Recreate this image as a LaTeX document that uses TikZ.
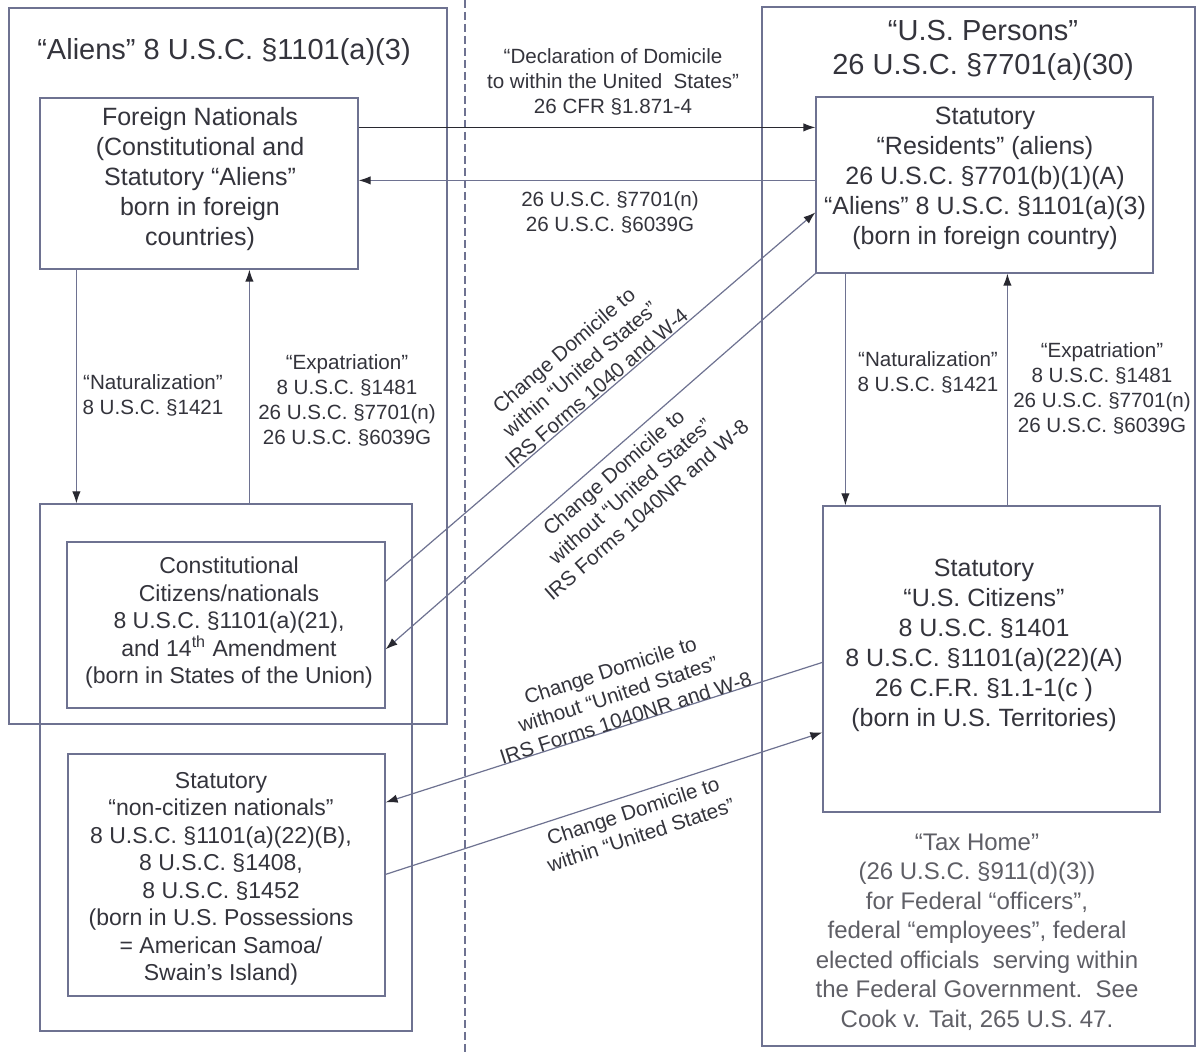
\documentclass[tikz,border=0pt]{standalone}
\usepackage{fontspec}
\setmainfont{Liberation Sans}
\usetikzlibrary{arrows.meta,fit,calc}
\definecolor{linec}{RGB}{110,114,145}
\definecolor{txt}{RGB}{52,52,60}
\definecolor{txtl}{RGB}{95,95,102}
\definecolor{tipc}{RGB}{40,40,48}
\begin{document}
\begin{tikzpicture}[x=0.5pt,y=-0.5pt,
  frame/.style={draw=linec,line width=0.6pt,inner sep=0pt},
  bt/.style={text=txt,align=center,inner sep=0pt,font=\fontsize{12.5pt}{15pt}\selectfont},
  bts/.style={text=txt,align=center,inner sep=0pt,font=\fontsize{11.5pt}{13.75pt}\selectfont},
  lbl/.style={text=txt,align=center,inner sep=0pt,font=\fontsize{10.3pt}{12.5pt}\selectfont},
  ttl/.style={text=txt,align=center,inner sep=0pt,font=\fontsize{14.5pt}{17pt}\selectfont},
  taxt/.style={text=txtl,align=center,inner sep=0pt,font=\fontsize{12pt}{14.75pt}\selectfont},
  conn/.style={draw=linec,line width=0.6pt,-{Latex[length=6pt,width=4.2pt,color=tipc]}},
  divider/.style={draw=linec,line width=0.6pt,dash pattern=on 4pt off 2pt}]
\fill[white] (0,0) rectangle (1200,1052);
\useasboundingbox (0,0) rectangle (1200,1052);

% divider
\coordinate (dtop) at (465,0);
\coordinate (dbot) at (465,1052);
\draw[divider] (dtop) -- (dbot);

% frames
\node[frame,fit={(9,8) (447,724)}] (alienbox) {};
\node[frame,fit={(40,504) (412,1031)}] (ll) {};
\node[frame,fit={(762,7) (1195,1046)}] (usp) {};
\node[frame,fit={(40,98) (358,269)}] (fn) {};
\node[frame,fit={(67,542) (385,708)}] (cc) {};
\node[frame,fit={(68,754) (385,996)}] (nc) {};
\node[frame,fit={(816,97) (1153,273)}] (res) {};
\node[frame,fit={(823,506) (1160,812)}] (usc) {};

% titles
\node[ttl] (t1) at (224,52) {“Aliens” 8 U.S.C. §1101(a)(3)};
\node[ttl] (t2) at (983,50) {“U.S. Persons”\\26 U.S.C. §7701(a)(30)};

% box texts
\node[bt] (fnt) at (200,179) {Foreign Nationals\\(Constitutional and\\Statutory “Aliens”\\born in foreign\\countries)};
\node[bts] (cct) at (229,623) {Constitutional\\Citizens/nationals\\8 U.S.C. §1101(a)(21),\\and 14\textsuperscript{th} Amendment\\(born in States of the Union)};
\node[bts] (nct) at (221,879) {Statutory\\“non-citizen nationals”\\8 U.S.C. §1101(a)(22)(B),\\8 U.S.C. §1408,\\8 U.S.C. §1452\\(born in U.S. Possessions\\= American Samoa/\\Swain’s Island)};
\node[bt] (rest) at (985,178) {Statutory\\“Residents” (aliens)\\26 U.S.C. §7701(b)(1)(A)\\“Aliens” 8 U.S.C. §1101(a)(3)\\(born in foreign country)};
\node[bt] (usct) at (984,645) {Statutory\\“U.S. Citizens”\\8 U.S.C. §1401\\8 U.S.C. §1101(a)(22)(A)\\26 C.F.R. §1.1-1(c )\\(born in U.S. Territories)};
\node[taxt] (tax) at (977,932) {“Tax Home”\\(26 U.S.C. §911(d)(3))\\for Federal “officers”,\\federal “employees”, federal\\elected officials\ \ serving within\\the Federal Government.\ \ See\\Cook v. Tait, 265 U.S. 47.};

% horizontal connectors
\draw[conn,draw=tipc] ($(fn.north east)+(0,30)$) -- ($(res.north west)+(0,31)$);
\draw[conn] ($(res.north west)+(0,84)$) -- ($(fn.north east)+(0,83)$);
\node[lbl] (l1) at (613,82) {“Declaration of Domicile\\to within the United\ \ States”\\26 CFR §1.871-4};
\node[lbl] (l2) at (610,212) {26 U.S.C. §7701(n)\\26 U.S.C. §6039G};

% vertical connectors left
\draw[conn] ($(fn.south west)+(37,0)$) -- ($(ll.north west)+(37,0)$);
\draw[conn] ($(ll.north west)+(210,0)$) -- ($(fn.south west)+(210,0)$);
\node[lbl] (l3) at (153,395) {“Naturalization”\\8 U.S.C. §1421};
\node[lbl] (l4) at (347,400) {“Expatriation”\\8 U.S.C. §1481\\26 U.S.C. §7701(n)\\26 U.S.C. §6039G};

% vertical connectors right
\draw[conn] ($(res.south west)+(30,0)$) -- ($(usc.north west)+(23,0)$);
\draw[conn] ($(usc.north west)+(185,0)$) -- ($(res.south west)+(192,0)$);
\node[lbl] (l5) at (928,372) {“Naturalization”\\8 U.S.C. §1421};
\node[lbl] (l6) at (1102,388) {“Expatriation”\\8 U.S.C. §1481\\26 U.S.C. §7701(n)\\26 U.S.C. §6039G};

% diagonal connectors
\draw[conn] ($(cc.north east)+(0,40)$) -- ($(res.north west)+(0,116)$);
\draw[conn] (res.south west) -- ($(cc.north east)+(0,108)$);
\draw[conn] ($(usc.north west)+(0,157)$) -- ($(nc.north east)+(0,49)$);
\draw[conn] ($(nc.north east)+(0,121)$) -- ($(usc.north west)+(0,227)$);
\node[lbl,rotate=40.6] (d1) at (580,369) {Change Domicile to\\within “United States”\\IRS Forms 1040 and W-4};
\node[lbl,rotate=41.2] (d2) at (630,491) {Change Domicile to\\without “United States”\\IRS Forms 1040NR and W-8};
\node[lbl,rotate=17.8] (d3) at (618,694) {Change Domicile to\\without “United States”\\IRS Forms 1040NR and W-8};
\node[lbl,rotate=18] (d4) at (637,823) {Change Domicile to\\within “United States”};
\end{tikzpicture}
\end{document}
